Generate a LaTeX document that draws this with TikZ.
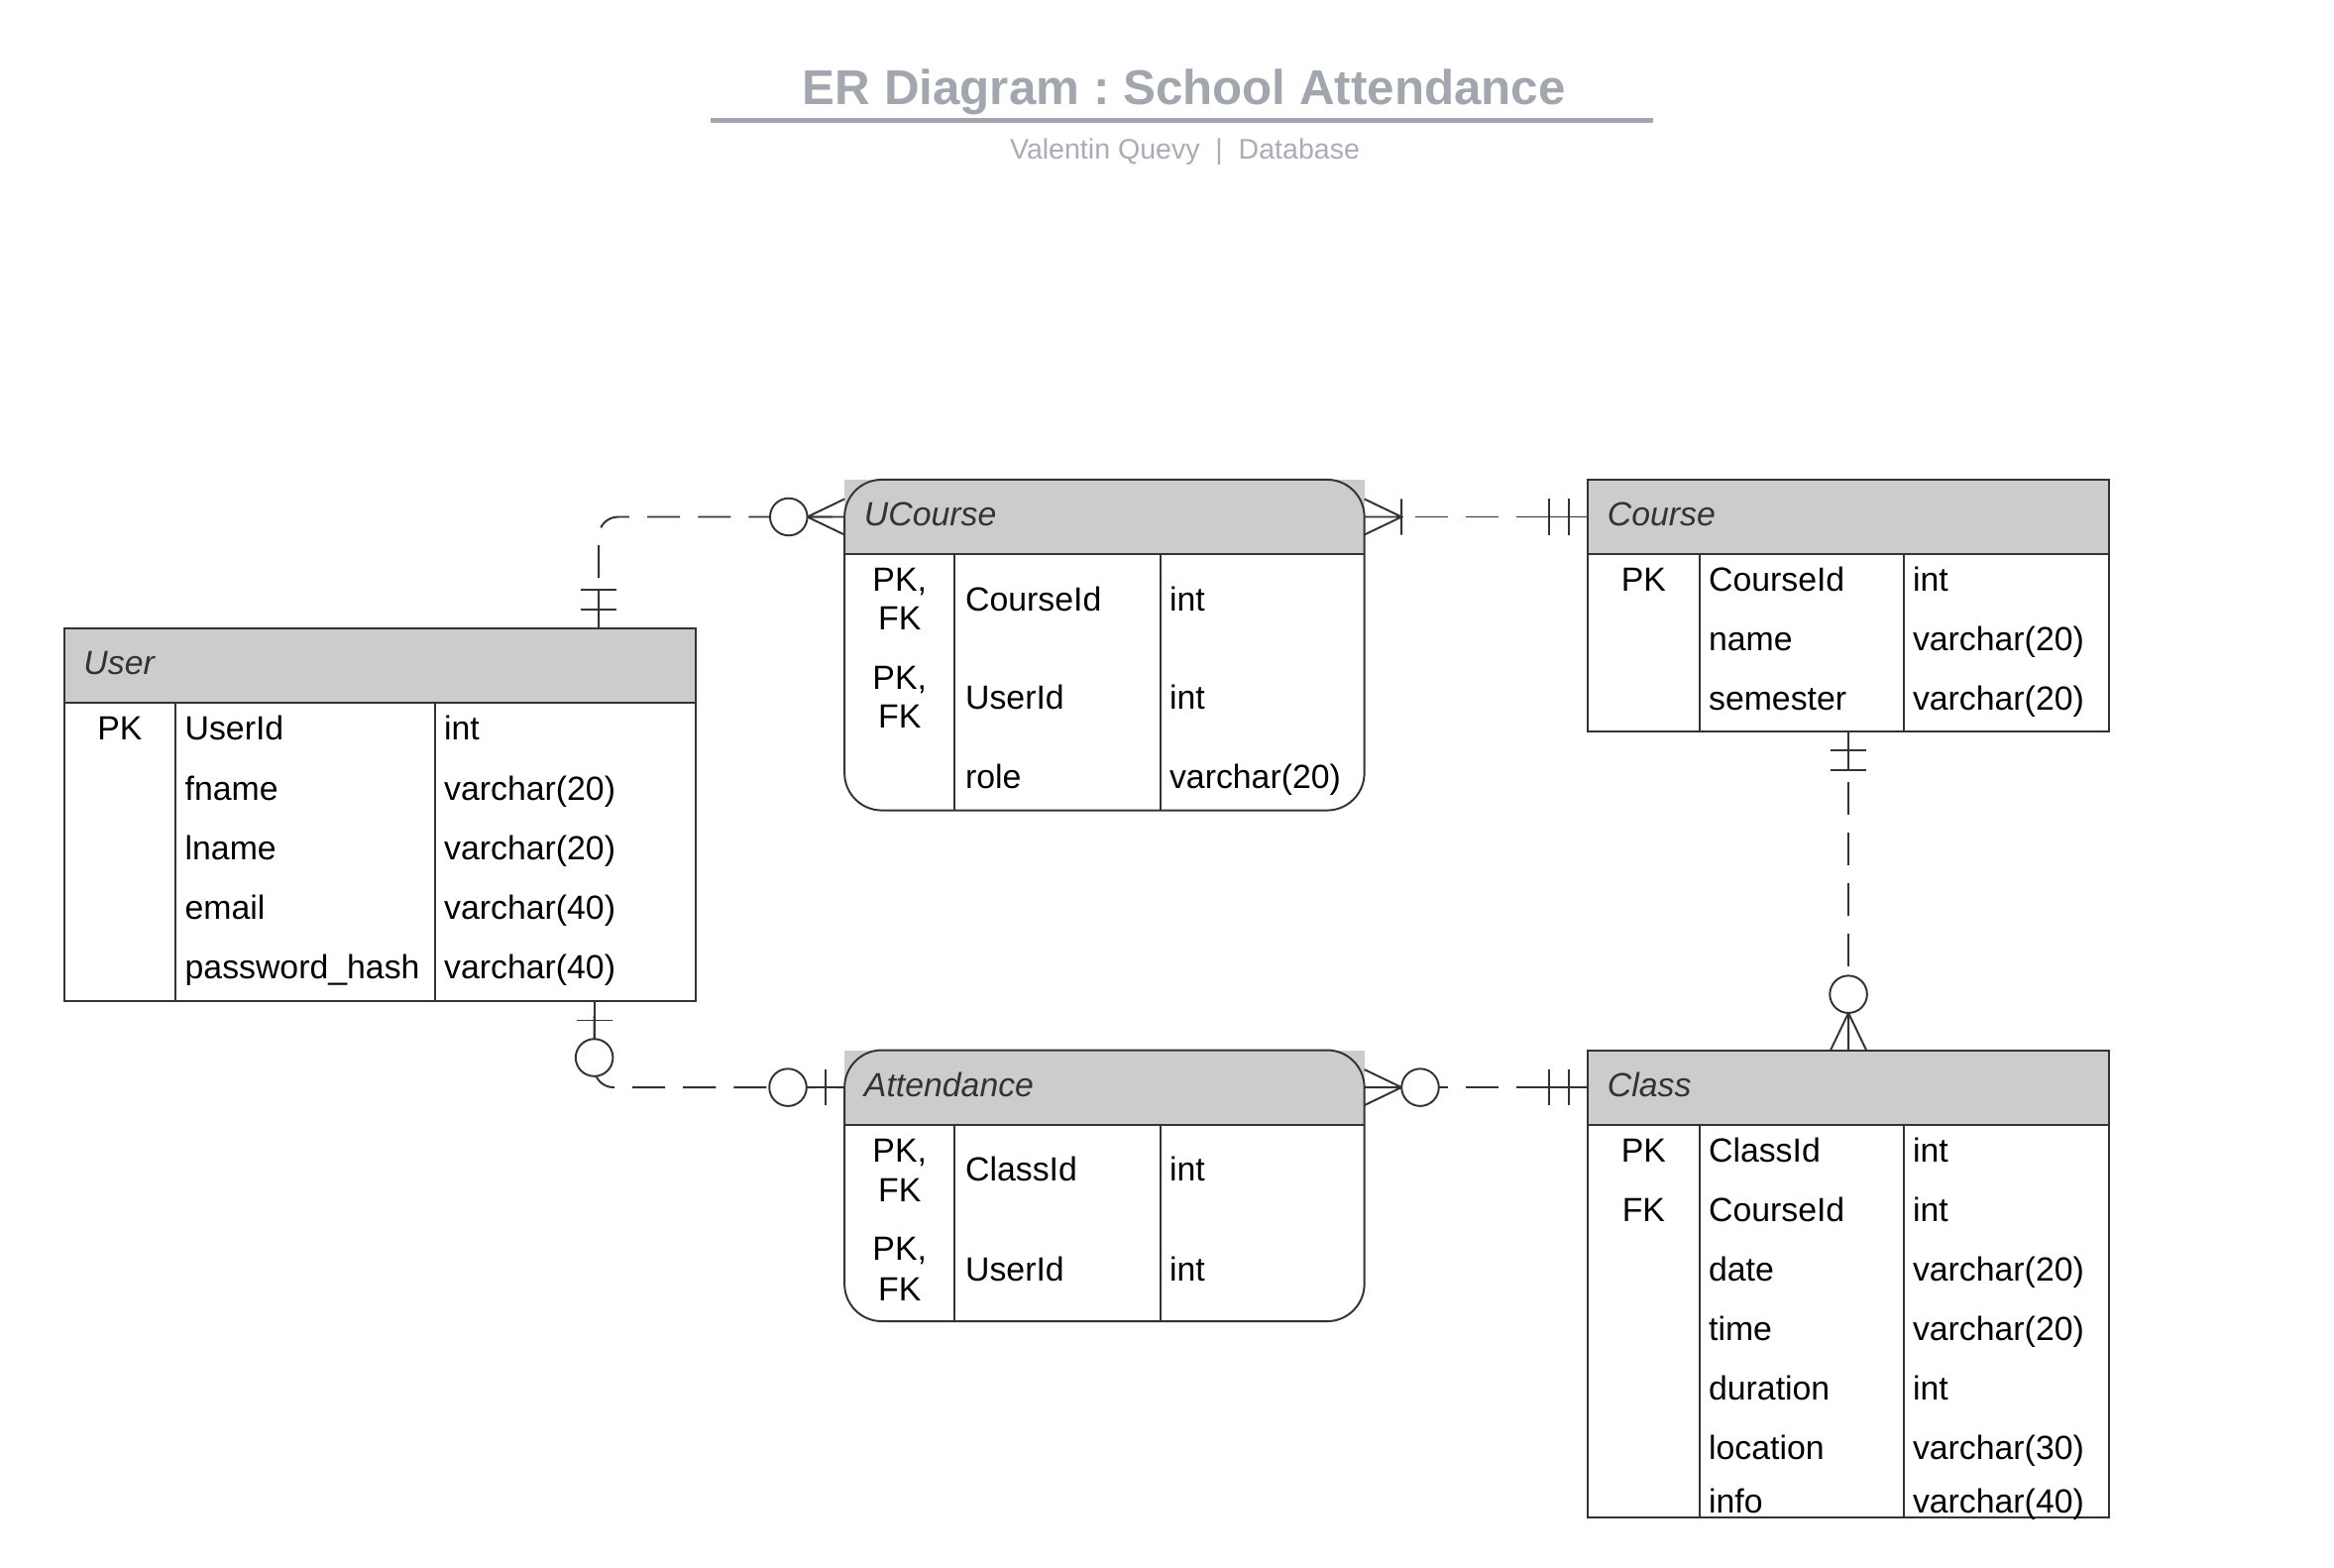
\documentclass[tikz,border=0pt]{standalone}
\usepackage{fontspec}
\setmainfont{Liberation Sans}
\usetikzlibrary{calc}
\definecolor{linegray}{HTML}{333333}
\definecolor{headgray}{HTML}{CCCCCC}
\definecolor{titlegray}{HTML}{A2A7AF}
\definecolor{subgray}{HTML}{A9ADB5}
\newcommand{\bodyfont}{\fontsize{22.5}{27}\selectfont}
\frenchspacing
\tikzset{
  entity/.style={draw=linegray, line width=1.3pt, anchor=north west, inner sep=0pt, outer sep=0pt},
  head/.style={entity, fill=headgray, minimum height=50pt},
  headtext/.style={anchor=west, inner sep=0pt, text=linegray, font=\bodyfont\itshape},
  keycell/.style={anchor=base, inner sep=0pt, font=\bodyfont},
  cell/.style={anchor=base west, inner sep=0pt, font=\bodyfont},
  colline/.style={draw=linegray, line width=1.3pt},
  rel/.style={draw=linegray, line width=1.3pt, dash pattern=on 22pt off 12pt},
  tick/.style={draw=linegray, line width=1.3pt, solid},
  mandone/.pic={\draw[tick] (0,0) -- (26,0) (13,-12) -- (13,12) (26,-12) -- (26,12);},
  zeroone/.pic={\draw[tick] (0,0) -- (26,0) (13,-12) -- (13,12);
    \draw[tick, fill=white] (38,0) circle (12.5);},
  zeromany/.pic={\draw[tick] (0,-12) -- (25,0) -- (0,12) (0,0) -- (25,0);
    \draw[tick, fill=white] (37.5,0) circle (12.5);},
  onemany/.pic={\draw[tick] (0,-12) -- (25,0) -- (0,12) (0,0) -- (25,0) (25,-12) -- (25,12);}
}
\begin{document}
\begin{tikzpicture}[x=1pt, y=-1pt]
\fill[white] (0,0) rectangle (1567,1052);
\useasboundingbox (0,0) rectangle (1567,1052);
% title
\node[anchor=base, inner sep=0pt, text=titlegray, font=\fontsize{32.8}{39}\selectfont\bfseries] (title) at (795,70) {ER Diagram : School Attendance};
\draw[titlegray, line width=3pt] (477,81) -- (1110,81);
\node[anchor=base, inner sep=0pt, text=subgray, font=\fontsize{19}{23}\selectfont] (subtitle) at (795.5,107) {Valentin Quevy\ \ |\ \ Database};
%
% User
\node[head, minimum width=424pt] (userH) at (43,422) {};
\node[headtext] (userT) at ([xshift=13pt,yshift=2pt]userH.west) {User};
\node[entity, minimum width=424pt, minimum height=200pt] (userB) at (userH.south west) {};
\draw[colline] ([xshift=75pt]userB.north west) -- ([xshift=75pt]userB.south west)
  ([xshift=249pt]userB.north west) -- ([xshift=249pt]userB.south west);
\foreach \y/\k/\f/\t [count=\i] in {17/PK/UserId/int, 57//fname/varchar(20), 97//lname/varchar(20),
    137//email/varchar(40), 177//password\_hash/varchar(40)}{
  \node[keycell] (userK\i) at ($(userB.north west)+(37.5,\y+8)$) {\k};
  \node[cell] (userF\i) at ($(userB.north west)+(81,\y+8)$) {\f};
  \node[cell] (userD\i) at ($(userB.north west)+(255,\y+8)$) {\t};
}
%
% UCourse
\node[head, draw=none, minimum width=349pt] (ucourseH) at (567,322) {};
\node[entity, rounded corners=25pt, minimum width=349pt, minimum height=222pt] (ucourse) at (ucourseH.north west) {};
\node[headtext] (ucourseT) at ([xshift=13pt,yshift=2pt]ucourseH.west) {UCourse};
\draw[colline] (ucourseH.south west) -- (ucourseH.south east)
  ([xshift=74pt]ucourseH.south west) -- ([xshift=74pt]ucourse.south west)
  ([xshift=212pt]ucourseH.south west) -- ([xshift=212pt]ucourse.south west);
\foreach \y/\f/\t [count=\i] in {30/CourseId/int, 96/UserId/int, 149/role/varchar(20)}{
  \node[cell] (ucourseF\i) at ($(ucourseH.south west)+(81,\y+8)$) {\f};
  \node[cell] (ucourseD\i) at ($(ucourseH.south west)+(218,\y+8)$) {\t};
}
\foreach \y/\k [count=\i] in {17/{PK,}, 43/FK, 83/{PK,}, 109/FK}{
  \node[keycell] (ucourseK\i) at ($(ucourseH.south west)+(37,\y+8)$) {\k};
}
%
% Course
\node[head, minimum width=350pt] (courseH) at (1066,322) {};
\node[headtext] (courseT) at ([xshift=13pt,yshift=2pt]courseH.west) {Course};
\node[entity, minimum width=350pt, minimum height=119pt] (courseB) at (courseH.south west) {};
\draw[colline] ([xshift=75pt]courseB.north west) -- ([xshift=75pt]courseB.south west)
  ([xshift=212pt]courseB.north west) -- ([xshift=212pt]courseB.south west);
\foreach \y/\k/\f/\t [count=\i] in {17/PK/CourseId/int, 57//name/varchar(20), 97//semester/varchar(20)}{
  \node[keycell] (courseK\i) at ($(courseB.north west)+(37.5,\y+8)$) {\k};
  \node[cell] (courseF\i) at ($(courseB.north west)+(81,\y+8)$) {\f};
  \node[cell] (courseD\i) at ($(courseB.north west)+(218,\y+8)$) {\t};
}
%
% Attendance
\node[head, draw=none, minimum width=349pt] (attendH) at (567,705) {};
\node[entity, rounded corners=25pt, minimum width=349pt, minimum height=182pt] (attend) at (attendH.north west) {};
\node[headtext] (attendT) at ([xshift=13pt,yshift=2pt]attendH.west) {Attendance};
\draw[colline] (attendH.south west) -- (attendH.south east)
  ([xshift=74pt]attendH.south west) -- ([xshift=74pt]attend.south west)
  ([xshift=212pt]attendH.south west) -- ([xshift=212pt]attend.south west);
\foreach \y/\f/\t [count=\i] in {30/ClassId/int, 97/UserId/int}{
  \node[cell] (attendF\i) at ($(attendH.south west)+(81,\y+8)$) {\f};
  \node[cell] (attendD\i) at ($(attendH.south west)+(218,\y+8)$) {\t};
}
\foreach \y/\k [count=\i] in {17/{PK,}, 44/FK, 83/{PK,}, 110/FK}{
  \node[keycell] (attendK\i) at ($(attendH.south west)+(37,\y+8)$) {\k};
}
%
% Class
\node[head, minimum width=350pt] (classH) at (1066,705) {};
\node[headtext] (classT) at ([xshift=13pt,yshift=2pt]classH.west) {Class};
\node[entity, minimum width=350pt, minimum height=264pt] (classB) at (classH.south west) {};
\draw[colline] ([xshift=75pt]classB.north west) -- ([xshift=75pt]classB.south west)
  ([xshift=212pt]classB.north west) -- ([xshift=212pt]classB.south west);
\foreach \y/\k/\f/\t [count=\i] in {17/PK/ClassId/int, 57/FK/CourseId/int, 97//date/varchar(20),
    137//time/varchar(20), 177//duration/int, 217//location/varchar(30), 253//info/varchar(40)}{
  \node[keycell] (classK\i) at ($(classB.north west)+(37.5,\y+8)$) {\k};
  \node[cell] (classF\i) at ($(classB.north west)+(81,\y+8)$) {\f};
  \node[cell] (classD\i) at ($(classB.north west)+(218,\y+8)$) {\t};
}
%
% relations
\coordinate (uTop) at ($(userH.north west)+(359,0)$);
\coordinate (uBot) at ($(userB.south west)+(356,0)$);
\draw[rel, rounded corners=13pt] (uTop) |- (ucourseH.west);
\draw[rel] (ucourseH.east) -- (courseH.west);
\draw[rel] (courseB.south) -- (classH.north);
\draw[rel, dash phase=24pt, rounded corners=13pt] (uBot) |- (attendH.west);
\draw[rel] (attendH.east) -- (classH.west);
%
\pic[rotate=90] at (uTop) {mandone};
\pic[rotate=180] at (ucourseH.west) {zeromany};
\pic at (ucourseH.east) {onemany};
\pic[rotate=180] at (courseH.west) {mandone};
\pic[rotate=-90] at (courseB.south) {mandone};
\pic[rotate=90] at (classH.north) {zeromany};
\pic[rotate=-90] at (uBot) {zeroone};
\pic[rotate=180] at (attendH.west) {zeroone};
\pic at (attendH.east) {zeromany};
\pic[rotate=180] at (classH.west) {mandone};
\end{tikzpicture}
\end{document}
